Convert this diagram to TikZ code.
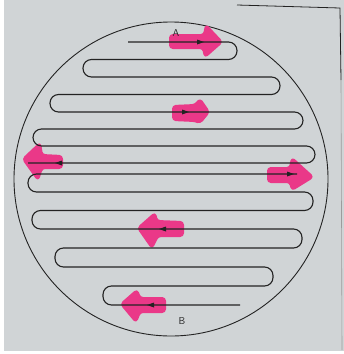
\documentclass[tikz,border=0pt]{standalone}
\usetikzlibrary{arrows.meta}
\definecolor{paper}{RGB}{208,212,214}
\definecolor{ink}{RGB}{35,35,35}
\definecolor{marker}{RGB}{234,56,136}
\begin{document}
\begin{tikzpicture}[x=1pt,y=-1pt,
  rim/.style={draw=ink, line width=0.9pt},
  coil/.style={draw=ink, line width=1.1pt, rounded corners=8.5pt},
  hilite/.style={fill=marker, draw=marker, line width=2pt, rounded corners=3pt, line join=round},
  flowtip/.style={fill=ink, draw=none},
  lbl/.style={font=\sffamily, text=ink, inner sep=0pt}]
\useasboundingbox (0,0) rectangle (344,354);
\fill[white] (0,0) rectangle (344,354);
\fill[paper] (4,0) rectangle (344,351);
% frame of the sheet
\draw[ink, line width=0.8pt] (237,5) -- (340,8) -- (341,80);
\draw[ink!45, line width=0.6pt] (341,80) -- (342,350);
% vessel outline
\draw[rim] (171,179) circle[radius=157];
% pink highlighter arrows
\fill[hilite] (170,35) -- (204,35) -- (206,25) -- (222,42) -- (205,57) -- (203,48) -- (170,48) -- cycle;
\fill[hilite] (173,106) -- (195,105) -- (200,99) -- (209,112) -- (200,123) -- (195,121) -- (173,120) -- cycle;
\fill[hilite] (62,156) -- (42,155) -- (40,143) -- (23,159) -- (38,180) -- (42,168) -- (62,168) -- cycle;
\fill[hilite] (268,168) -- (290,168) -- (292,158) -- (313,177) -- (292,190) -- (290,182) -- (268,182) -- cycle;
\fill[hilite] (183,222) -- (157,221) -- (155,213) -- (138,228) -- (152,248) -- (158,236) -- (183,236) -- cycle;
\fill[hilite] (165,298) -- (140,298) -- (137,290) -- (121,304) -- (136,322) -- (140,312) -- (165,312) -- cycle;
% upper coil, from A
\draw[coil] (128,42) -- (237,42) -- (237,59.5) -- (83,59.5) -- (83,77) -- (280,77) -- (280,94.5) -- (50,94.5) -- (50,112) -- (303,112) -- (303,129) -- (33,129) -- (33,146) -- (315,146) -- (315,163) -- (28,163);
% lower coil, from B
\draw[coil] (297,174) -- (28,174) -- (28,192) -- (313,192) -- (313,210.5) -- (32,210.5) -- (32,229) -- (302,229) -- (302,248) -- (55,248) -- (55,267) -- (273,267) -- (273,286) -- (103,286) -- (103,305) -- (240,305);
% small black flow tips on the lines
\fill[flowtip] (204,42) -- (197,39.5) -- (197,44.5) -- cycle;
\fill[flowtip] (189,112) -- (182,109.5) -- (182,114.5) -- cycle;
\fill[flowtip] (55,163) -- (62,160.5) -- (62,165.5) -- cycle;
\fill[flowtip] (294,174) -- (287,171.5) -- (287,176.5) -- cycle;
\fill[flowtip] (159,229) -- (166,226.5) -- (166,231.5) -- cycle;
\fill[flowtip] (147,305) -- (154,302.5) -- (154,307.5) -- cycle;
% labels
\node[lbl] (labelA) at (176,33) {A};
\node[lbl] (labelB) at (182,321) {B};
\end{tikzpicture}
\end{document}
